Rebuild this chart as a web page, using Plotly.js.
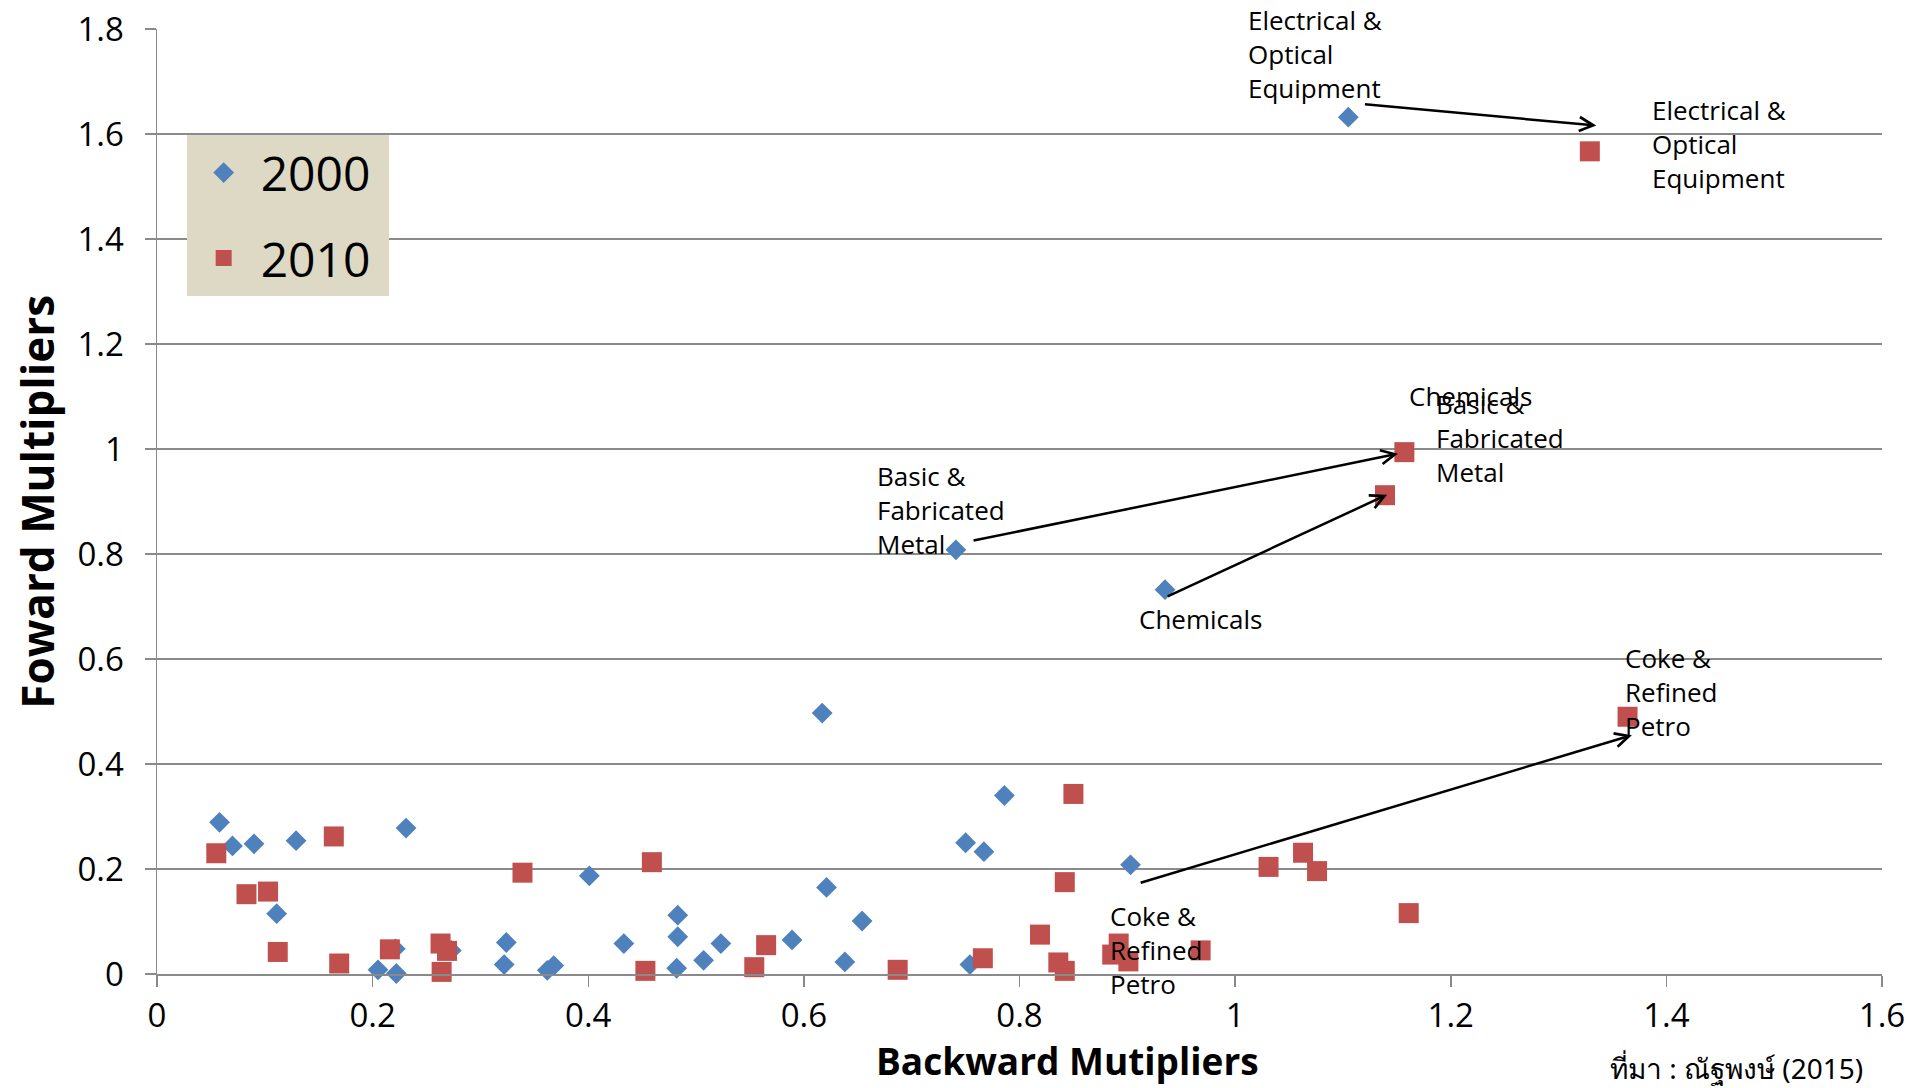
<!DOCTYPE html>
<html>
<head>
<meta charset="utf-8">
<script src="https://cdn.plot.ly/plotly-3.0.1.min.js"></script>
<style>
  html, body { margin: 0; padding: 0; background: #ffffff; }
  #chart { width: 1909px; height: 1088px; }
</style>
</head>
<body>
<div id="chart"></div>
<script>
// ---- Data ----
const seriesNames = ["2000", "2010"];

// 2000 (Backward, Forward)
const x2000 = [0.058, 0.070, 0.090, 0.129, 0.231, 0.111, 0.401, 0.221, 0.205, 0.222,
               0.273, 0.324, 0.322, 0.362, 0.368, 0.433, 0.483, 0.483, 0.482, 0.507,
               0.523, 0.589, 0.621, 0.638, 0.654, 0.750, 0.767, 0.786, 0.754, 0.617,
               0.903, 0.741, 0.935, 1.105];
const y2000 = [0.289, 0.244, 0.248, 0.254, 0.278, 0.115, 0.187, 0.048, 0.008, 0.001,
               0.045, 0.060, 0.018, 0.007, 0.016, 0.058, 0.112, 0.071, 0.011, 0.026,
               0.058, 0.065, 0.165, 0.023, 0.101, 0.250, 0.233, 0.340, 0.018, 0.497,
               0.208, 0.808, 0.732, 1.632];

// 2010 (Backward, Forward)
const x2010 = [0.055, 0.164, 0.083, 0.103, 0.112, 0.169, 0.216, 0.263, 0.269, 0.264,
               0.339, 0.459, 0.453, 0.554, 0.565, 0.687, 0.766, 0.850, 0.842, 0.819,
               0.836, 0.842, 0.892, 0.886, 0.901, 0.968, 1.031, 1.063, 1.076, 1.161,
               1.329, 1.157, 1.139, 1.364];
const y2010 = [0.230, 0.262, 0.152, 0.157, 0.042, 0.020, 0.047, 0.058, 0.044, 0.004,
               0.193, 0.213, 0.006, 0.013, 0.055, 0.008, 0.030, 0.343, 0.175, 0.075,
               0.022, 0.006, 0.058, 0.037, 0.024, 0.045, 0.204, 0.231, 0.196, 0.116,
               1.567, 0.994, 0.912, 0.490];

// Labelled sectors: index into the series arrays
const sectorNames = ["Electrical &<br>Optical<br>Equipment", "Basic &<br>Fabricated<br>Metal", "Chemicals", "Coke &<br>Refined<br>Petro"];
const sectorIdx2000 = [33, 31, 32, 30];
const sectorIdx2010 = [30, 31, 32, 33];

// Arrow start / end (data units) as drawn in the reference
const arrowFromX = [1.119, 0.756, 0.936, 0.911];
const arrowFromY = [1.657, 0.825, 0.718, 0.173];
const arrowToX   = [1.335, 1.151, 1.141, 1.368];
const arrowToY   = [1.616, 0.991, 0.913, 0.455];

const xTickVals = [0, 0.2, 0.4, 0.6, 0.8, 1, 1.2, 1.4, 1.6];
const yTickVals = [0, 0.2, 0.4, 0.6, 0.8, 1, 1.2, 1.4, 1.6, 1.8];

const xTitle = "Backward Mutipliers";
const yTitle = "Foward Multipliers";
const sourceText = "ที่มา : ณัฐพงษ์ (2015)";

// ---- Styling ----
const FONT = "Open Sans, Noto Sans, DejaVu Sans, sans-serif";
const BLUE = "#4F81BD";
const RED = "#C0504D";
const GRID = "#8a8a8a";
const NBSP = "\u00a0";

const traces = [
  {
    type: "scatter", mode: "markers", name: seriesNames[0] + NBSP, legendgroup: "a",
    x: x2000, y: y2000,
    marker: { symbol: "diamond", size: 16, color: BLUE },
    cliponaxis: false
  },
  {
    type: "scatter", mode: "markers", name: seriesNames[1] + NBSP, legendgroup: "b",
    x: x2010, y: y2010,
    marker: { symbol: "square", size: 20, color: RED },
    cliponaxis: false
  }
];

// label offsets in pixels (xshift, yshift) relative to the point
const lab2000Shift = [[-102, 117], [-81, 94], [-28, -9], [-23, -31]];
const lab2010Shift = [[60, 61], [30, 68], [22, 119], [-5, 79]];

const annotations = [];
sectorNames.forEach((name, k) => {
  const i0 = sectorIdx2000[k], i1 = sectorIdx2010[k];
  annotations.push({
    x: x2000[i0], y: y2000[i0], xref: "x", yref: "y",
    text: name, showarrow: false, xanchor: "left", yanchor: "top", align: "left",
    xshift: lab2000Shift[k][0], yshift: lab2000Shift[k][1],
    font: { family: FONT, size: 26, color: "#000" }
  });
  annotations.push({
    x: x2010[i1], y: y2010[i1], xref: "x", yref: "y",
    text: name, showarrow: false, xanchor: "left", yanchor: "top", align: "left",
    xshift: lab2010Shift[k][0], yshift: lab2010Shift[k][1],
    font: { family: FONT, size: 26, color: "#000" }
  });
  annotations.push({
    x: arrowToX[k], y: arrowToY[k], xref: "x", yref: "y",
    ax: arrowFromX[k], ay: arrowFromY[k], axref: "x", ayref: "y",
    text: "", showarrow: true, arrowhead: 5, arrowsize: 1.1, arrowwidth: 2.5,
    arrowcolor: "#000"
  });
});

annotations.push({
  x: 0.528, y: -0.1203, xref: "paper", yref: "paper",
  text: "<b>" + xTitle + "</b>", showarrow: false, xanchor: "center", yanchor: "bottom",
  font: { family: FONT, size: 37, color: "#000" }
});
annotations.push({
  x: -0.07, y: 0.5, xref: "paper", yref: "paper", textangle: -90,
  text: "<b>" + yTitle + "</b>", showarrow: false, xanchor: "center", yanchor: "middle",
  font: { family: FONT, size: 44, color: "#000" }
});
annotations.push({
  x: 0.99, y: -0.099, xref: "paper", yref: "paper",
  text: sourceText, showarrow: false, xanchor: "right", yanchor: "middle",
  font: { family: "Noto Sans, DejaVu Sans, sans-serif", size: 28, color: "#000" }
});

const layout = {
  width: 1909, height: 1088,
  margin: { l: 157, r: 27, t: 29, b: 114, pad: 0 },
  paper_bgcolor: "#ffffff", plot_bgcolor: "#ffffff",
  font: { family: FONT, color: "#000" },
  showlegend: true,
  legend: {
    x: 0.0172, y: 0.888, xanchor: "left", yanchor: "top",
    bgcolor: "#DDD9C4", borderwidth: 0,
    font: { family: FONT, size: 48, color: "#000" },
    tracegroupgap: 20, itemwidth: 64
  },
  xaxis: {
    range: [0, 1.6], tickvals: xTickVals, ticktext: xTickVals.map(String),
    showgrid: false, zeroline: false,
    showline: true, linecolor: GRID, linewidth: 1.5,
    ticks: "outside", ticklen: 11, tickcolor: GRID, tickwidth: 1.5,
    ticklabelstandoff: 1,
    tickfont: { family: FONT, size: 33, color: "#000" },
    fixedrange: true
  },
  yaxis: {
    range: [0, 1.8], tickvals: yTickVals, ticktext: yTickVals.map(String),
    showgrid: true, gridcolor: GRID, gridwidth: 1.5, zeroline: false,
    showline: true, linecolor: GRID, linewidth: 1.5,
    ticks: "outside", ticklen: 11, tickcolor: GRID, tickwidth: 1.5,
    ticklabelstandoff: 14,
    tickfont: { family: FONT, size: 33, color: "#000" },
    fixedrange: true
  },
  annotations: annotations
};

Plotly.newPlot("chart", traces, layout, { displayModeBar: false, staticPlot: true });
</script>
</body>
</html>
